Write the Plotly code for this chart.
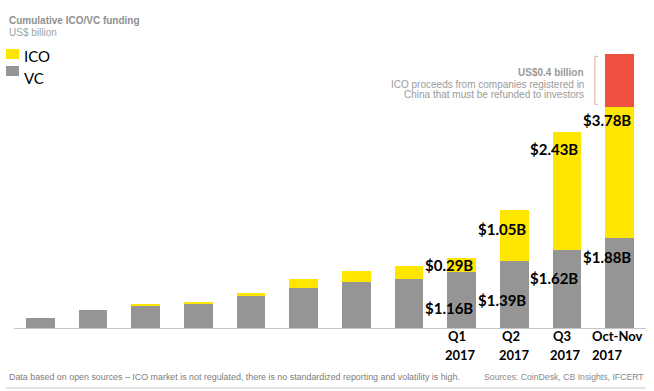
import plotly.graph_objects as go

# ---------------- data ----------------
periods = ["", "", "", "", "", "", "", "", "Q1 2017", "Q2 2017", "Q3 2017", "Oct-Nov 2017"]
period_line1 = ["", "", "", "", "", "", "", "", "Q1", "Q2", "Q3", "Oct-Nov"]
period_line2 = ["", "", "", "", "", "", "", "", "2017", "2017", "2017", "2017"]
vc_values = [0.21, 0.37, 0.47, 0.50, 0.68, 0.84, 0.96, 1.03, 1.16, 1.39, 1.62, 1.88]
ico_values = [0.0, 0.0, 0.03, 0.04, 0.04, 0.19, 0.22, 0.27, 0.29, 1.06, 2.46, 2.72]
refund_values = [0, 0, 0, 0, 0, 0, 0, 0, 0, 0, 0, 1.10]
vc_labels = ["", "", "", "", "", "", "", "", "$1.16B", "$1.39B", "$1.62B", "$1.88B"]
ico_labels = ["", "", "", "", "", "", "", "", "$0.29B", "$1.05B", "$2.43B", "$3.78B"]

# ---------------- styling / layout ----------------
W, H = 654, 391
ML, MR, MT, MB = 14, 8, 40, 63
YMAX = 6.0
GREY = "#959595"
YELLOW = "#FFE600"
RED = "#EF5140"
TXT_GREY = "#8f8f8f"

def px_x(p):
    return (p - ML) / (W - ML - MR)

def px_y(p):
    return (H - MB - p) / (H - MT - MB)

def py_data(p):
    return (H - MB - p) / (H - MT - MB) * YMAX

x = list(range(len(periods)))

fig = go.Figure()
for vals, col, nm in [(vc_values, GREY, "VC"), (ico_values, YELLOW, "ICO"), (refund_values, RED, "Refund")]:
    fig.add_trace(go.Bar(x=x, y=vals, name=nm, width=0.55,
                         marker=dict(color=col, line=dict(width=0))))

annotations = []
shapes = []

# header
annotations.append(dict(xref="paper", yref="paper", x=px_x(7), y=px_y(20), xanchor="left", yanchor="middle",
                        text="<b>Cumulative ICO/VC funding</b>", showarrow=False,
                        font=dict(family="Liberation Sans", size=10, color=TXT_GREY)))
annotations.append(dict(xref="paper", yref="paper", x=px_x(7), y=px_y(32), xanchor="left", yanchor="middle",
                        text="US$ billion", showarrow=False,
                        font=dict(family="Liberation Sans", size=10, color="#a3a3a3")))

# legend
for (y0, y1, col, lab, ty) in [(49, 59, YELLOW, "ICO", 56), (66, 76, GREY, "VC", 78)]:
    shapes.append(dict(type="rect", xref="paper", yref="paper", x0=px_x(6), x1=px_x(19),
                       y0=px_y(y1), y1=px_y(y0), fillcolor=col, line=dict(width=0)))
    annotations.append(dict(xref="paper", yref="paper", x=px_x(22), y=px_y(ty), xanchor="left", yanchor="middle",
                            text=lab, showarrow=False, font=dict(family="Lato", size=15, color="#000")))

# period labels (drawn under the last four bars)
period_left = {8: -0.35, 9: -0.33, 10: -0.36, 11: -0.56}
for i in x:
    if period_line1[i]:
        off = period_left[i]
        annotations.append(dict(xref="x", yref="paper", x=i + off + (0.06 if len(period_line1[i]) == 2 else 0), y=px_y(336),
                                xanchor="left", yanchor="middle", text="<b>%s</b>" % period_line1[i],
                                showarrow=False, font=dict(family="Lato", size=13, color="#000")))
        annotations.append(dict(xref="x", yref="paper", x=i + off, y=px_y(355),
                                xanchor="left", yanchor="middle", text="<b>%s</b>" % period_line2[i],
                                showarrow=False, font=dict(family="Lato", size=13, color="#000")))

# value labels
vc_label_px = {8: 308, 9: 300, 10: 278, 11: 256.5}
ico_label_px = {8: 264.5, 9: 229, 10: 148.7, 11: 119.5}
for i in x:
    if vc_labels[i]:
        annotations.append(dict(xref="x", yref="y", x=i + 0.25, y=py_data(vc_label_px[i]),
                                xanchor="right", yanchor="middle", text="<b>%s</b>" % vc_labels[i],
                                showarrow=False, font=dict(family="Lato", size=15, color="#000")))
    if ico_labels[i]:
        annotations.append(dict(xref="x", yref="y", x=i + 0.25, y=py_data(ico_label_px[i]),
                                xanchor="right", yanchor="middle", text="<b>%s</b>" % ico_labels[i],
                                showarrow=False, font=dict(family="Lato", size=15, color="#000")))

# refund bracket + note
last = len(x) - 1
r0 = vc_values[last] + ico_values[last]
r1 = r0 + refund_values[last]
bx0, bx1 = last - 0.47, last - 0.41
shapes.append(dict(type="path", xref="x", yref="y",
                   path="M %f %f L %f %f L %f %f L %f %f" % (bx1, r1 - 0.04, bx0, r1 - 0.04, bx0, r0 + 0.06, bx1, r0 + 0.06),
                   line=dict(color="#eba3a0", width=1)))
note_lines = [("<b>US$0.4 billion</b>", 72), ("ICO proceeds from companies registered in", 84),
              ("China that must be refunded to investors", 94)]
for t, yy in note_lines:
    annotations.append(dict(xref="paper", yref="paper", x=px_x(586), y=px_y(yy), xanchor="right", yanchor="middle",
                            text=t, showarrow=False,
                            font=dict(family="Liberation Sans", size=10, color="#9a9a9a")))

# footer
annotations.append(dict(xref="paper", yref="paper", x=px_x(7), y=px_y(377), xanchor="left", yanchor="middle",
                        text="Data based on open sources \u2013 ICO market is not regulated, there is no standardized reporting and volatility is high.",
                        showarrow=False, font=dict(family="Liberation Sans", size=8.9, color="#7d7d7d")))
annotations.append(dict(xref="paper", yref="paper", x=px_x(646), y=px_y(377), xanchor="right", yanchor="middle",
                        text="Sources: CoinDesk, CB Insights, IFCERT",
                        showarrow=False, font=dict(family="Liberation Sans", size=8.7, color="#8a8a8a")))
shapes.append(dict(type="line", xref="paper", yref="paper", x0=px_x(6), x1=px_x(646), y0=px_y(388), y1=px_y(388),
                   line=dict(color="#c8c8c8", width=1)))

fig.update_layout(
    width=W, height=H,
    margin=dict(l=ML, r=MR, t=MT, b=MB),
    paper_bgcolor="white", plot_bgcolor="white",
    barmode="stack", bargap=0.45, showlegend=False,
    xaxis=dict(range=[-0.5, len(x) - 0.5], showline=True, linecolor="#c6c6c6", linewidth=1,
               showticklabels=False, ticks="", showgrid=False, zeroline=False, fixedrange=True),
    yaxis=dict(range=[0, YMAX], visible=False, showgrid=False, zeroline=False, fixedrange=True),
    annotations=annotations, shapes=shapes,
)

fig.write_html("out.html", config={"displayModeBar": False},
               post_script="document.body.style.margin='0px';document.body.style.overflow='hidden';")
